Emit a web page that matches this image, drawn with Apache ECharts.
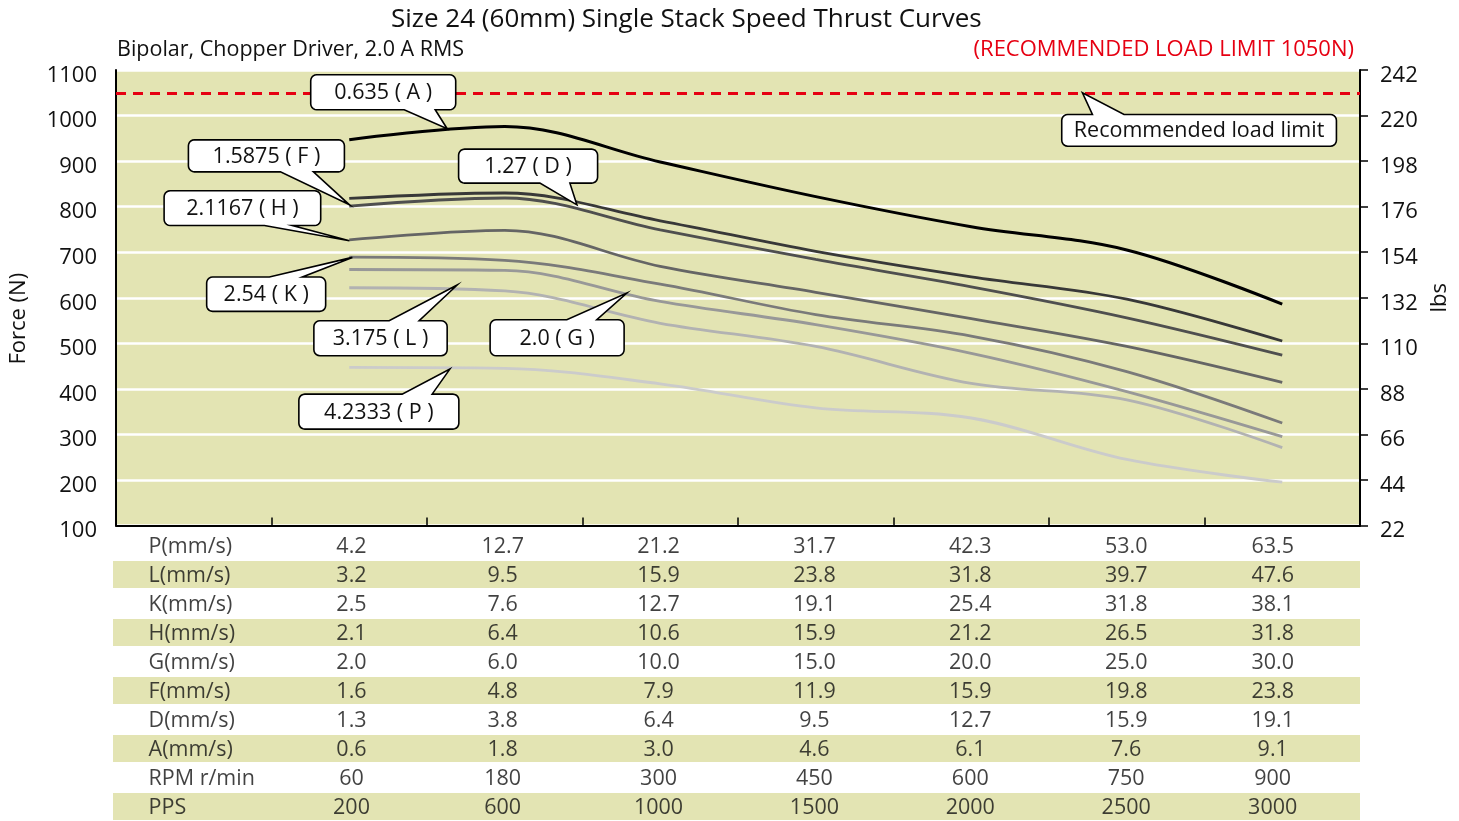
<!DOCTYPE html>
<html><head><meta charset="utf-8">
<script src="https://cdn.jsdelivr.net/npm/echarts@6/dist/echarts.min.js"></script>
<style>html,body{margin:0;padding:0;background:#fff}#c{width:1459px;height:821px}</style>
</head><body><div id="c"></div>
<script>
// ---------- data ----------
const ppsCols = ['200','600','1000','1500','2000','2500','3000'];
const forceA = [947, 976, 898, 822, 756, 705, 586];
const forceD = [818, 830, 769, 702, 646, 597, 505];
const forceF = [801, 819, 749, 684, 624, 556, 474];
const forceH = [727, 748, 669, 612, 554, 493, 414];
const forceK = [689, 682, 630, 563, 516, 438, 325];
const forceG = [662, 660, 592, 541, 478, 394, 295];
const forceL = [622, 615, 544, 493, 412, 376, 271];
const forceP = [447, 445, 411, 358, 336, 245, 195];
const loadLimit = 1050;

const rowNames = ['P(mm/s)','L(mm/s)','K(mm/s)','H(mm/s)','G(mm/s)','F(mm/s)','D(mm/s)','A(mm/s)','RPM r/min','PPS'];
const speedP = ['4.2','12.7','21.2','31.7','42.3','53.0','63.5'];
const speedL = ['3.2','9.5','15.9','23.8','31.8','39.7','47.6'];
const speedK = ['2.5','7.6','12.7','19.1','25.4','31.8','38.1'];
const speedH = ['2.1','6.4','10.6','15.9','21.2','26.5','31.8'];
const speedG = ['2.0','6.0','10.0','15.0','20.0','25.0','30.0'];
const speedF = ['1.6','4.8','7.9','11.9','15.9','19.8','23.8'];
const speedD = ['1.3','3.8','6.4','9.5','12.7','15.9','19.1'];
const speedA = ['0.6','1.8','3.0','4.6','6.1','7.6','9.1'];
const rpmRow = ['60','180','300','450','600','750','900'];
const ppsRow = ppsCols;
const tableRows = [speedP, speedL, speedK, speedH, speedG, speedF, speedD, speedA, rpmRow, ppsRow];

const forceTicks = {min:100, max:1100, interval:100};
const lbsTicks = {min:22, max:242, interval:22};

// ---------- layout / style ----------
const FONT = '"Open Sans", "Noto Sans", sans-serif';
const BG = '#e3e4b3';
const RED = '#e60012';
const TXT = '#111';
const colX = i => i + 1.5;             // line column positions on the 0..8 axis
const tableColX = [1.53, 2.5, 3.5, 4.5, 5.5, 6.5, 7.44];
const rowHeaderX = 0.225;

const lines = [
  {name:'P', data:forceP, color:'#cbcbcb', w:2.8},
  {name:'L', data:forceL, color:'#b2b2b2', w:2.8},
  {name:'G', data:forceG, color:'#989898', w:2.8},
  {name:'K', data:forceK, color:'#7a7a7a', w:2.8},
  {name:'H', data:forceH, color:'#656565', w:2.8},
  {name:'F', data:forceF, color:'#4f4f4f', w:2.8},
  {name:'D', data:forceD, color:'#383838', w:2.8},
  {name:'A', data:forceA, color:'#000000', w:3}
];

// callouts: tip in data coords, box & wedge base in px relative to tip
const callouts = [
  {text:'0.635 ( A )',  tip:[2.130, 971], box:[-136.5,-54,145,35],  side:'bottom', base:[-43,-12]},
  {text:'1.5875 ( F )', tip:[1.501, 804], box:[-161,-65,156,32],    side:'bottom', base:[-69,-36]},
  {text:'1.27 ( D )',   tip:[2.964, 804], box:[-118.3,-55.7,139,34],side:'bottom', base:[-37,-7]},
  {text:'2.1167 ( H )', tip:[1.501, 725], box:[-185.3,-50,156.6,34.7], side:'bottom', base:[-85,-57]},
  {text:'2.54 ( K )',   tip:[1.520, 688.6], box:[-145.7,19.6,119,34.4], side:'top', base:[-83,-50]},
  {text:'3.175 ( L )',  tip:[2.194, 628], box:[-143.3,35.7,133.3,35], side:'top', base:[-68,-38]},
  {text:'4.2333 ( P )', tip:[2.147, 443.3], box:[-151,25,160,35],   side:'top', base:[-47.7,-17.7]},
  {text:'2.0 ( G )',    tip:[3.285, 610.3], box:[-136.7,26.7,134,36], side:'top', base:[-60,-30]},
  {text:'Recommended load limit', tip:[6.215, 1050], box:[-20.7,21.7,274.7,31.7], side:'top', base:[10,41.6]}
];

const chart = echarts.init(document.getElementById('c'), null, {renderer:'canvas'});

const series = lines.map(s => ({
  type:'line', name:s.name, xAxisIndex:0, yAxisIndex:0,
  data: s.data.map((v,i)=>[colX(i), v]),
  smooth:0.35, symbol:'none', silent:true,
  lineStyle:{color:s.color, width:s.w}, z:3
}));
series[series.length-1].markLine = {
  silent:true, symbol:'none', label:{show:false},
  lineStyle:{color:RED, type:[10,7], width:3},
  data:[{yAxis:loadLimit}]
};

// table bands
series.push({
  type:'bar', xAxisIndex:1, yAxisIndex:2, silent:true, barWidth:'93%',
  itemStyle:{color:BG}, data: rowNames.map((n,i)=> i%2===1 ? 8 : '-'), z:1
});
// row headers
series.push({
  type:'scatter', xAxisIndex:1, yAxisIndex:2, silent:true, symbolSize:1,
  itemStyle:{color:'rgba(0,0,0,0)'},
  data: rowNames.map(n => [rowHeaderX, n]),
  label:{show:true, position:'right', distance:0, offset:[0,1.5], formatter:p=>p.value[1],
         fontFamily:FONT, fontSize:21.5, color:TXT}, z:5
});
// table values
const cells = [];
tableRows.forEach((row,r)=> row.forEach((t,c)=> cells.push([tableColX[c], rowNames[r], t])));
series.push({
  type:'scatter', xAxisIndex:1, yAxisIndex:2, silent:true, symbolSize:1,
  itemStyle:{color:'rgba(0,0,0,0)'},
  data: cells,
  label:{show:true, position:'inside', offset:[0,1.5], formatter:p=>p.value[2],
         fontFamily:FONT, fontSize:21.5, color:TXT}, z:5
});

const axisLabelCommon = {
  formatter: v => '{t|' + v + '}',
  rich:{t:{fontFamily:FONT, fontSize:22, color:TXT, padding:[11,0,0,0]}}
};

chart.setOption({
  animation:false,
  backgroundColor:'#fff',
  title:[
    {text:'Size 24 (60mm) Single Stack Speed Thrust Curves', left:386, top:2,
     textStyle:{fontFamily:FONT, fontSize:26, fontWeight:'normal', color:TXT}},
    {text:'Bipolar, Chopper Driver, 2.0 A RMS', left:112, top:34,
     textStyle:{fontFamily:FONT, fontSize:21.5, fontWeight:'normal', color:TXT}},
    {text:'(RECOMMENDED LOAD LIMIT 1050N)', right:100, top:34,
     textStyle:{fontFamily:FONT, fontSize:22, fontWeight:'normal', color:RED}}
  ],
  grid:[
    {left:113, right:99, top:70, bottom:295.5, show:true, backgroundColor:BG, borderWidth:0, containLabel:false},
    {left:113, right:99, top:531, bottom:0, containLabel:false}
  ],
  xAxis:[
    {type:'value', gridIndex:0, min:0, max:8, interval:1,
     axisLine:{show:true, onZero:false, lineStyle:{color:'#000', width:2}},
     axisTick:{show:true, inside:true, length:8, lineStyle:{color:'#000', width:1.5}},
     axisLabel:{show:false}, splitLine:{show:false}},
    {type:'value', gridIndex:1, min:0, max:8, show:false}
  ],
  yAxis:[
    {type:'value', gridIndex:0, position:'left', ...forceTicks,
     name:'Force (N)', nameLocation:'middle', nameRotate:90, nameGap:86,
     nameTextStyle:{fontFamily:FONT, fontSize:22, color:TXT, padding:[0,42,0,0]},
     axisLine:{show:true, onZero:false, lineStyle:{color:'#000', width:2}},
     axisTick:{show:false},
     axisLabel:{...axisLabelCommon, margin:19},
     splitLine:{show:true, lineStyle:{color:'#fff', width:2.5}}},
    {type:'value', gridIndex:0, position:'right', ...lbsTicks,
     name:'lbs', nameLocation:'middle', nameRotate:90, nameGap:66,
     nameTextStyle:{fontFamily:FONT, fontSize:22, color:TXT},
     axisLine:{show:true, onZero:false, lineStyle:{color:'#000', width:2}},
     axisTick:{show:true, length:8, lineStyle:{color:'#000', width:1.5}},
     axisLabel:{...axisLabelCommon, margin:20},
     splitLine:{show:false}},
    {type:'category', gridIndex:1, data:rowNames, inverse:true, show:false}
  ],
  series
});

function calloutPoints(x, y, w, h, side, b1, b2, tx, ty){
  const r = 6, n = 5, pts = [];
  const arc = (cx, cy, a0) => {
    for (let k = 0; k <= n; k++) {
      const a = a0 + k * Math.PI / 2 / n;
      pts.push([cx + r*Math.cos(a), cy + r*Math.sin(a)]);
    }
  };
  arc(x+r, y+r, Math.PI);
  if (side === 'top') pts.push([b1, y], [tx, ty], [b2, y]);
  arc(x+w-r, y+r, 1.5*Math.PI);
  arc(x+w-r, y+h-r, 0);
  if (side === 'bottom') pts.push([b2, y+h], [tx, ty], [b1, y+h]);
  arc(x+r, y+h-r, 0.5*Math.PI);
  return pts;
}

const graphics = [];
callouts.forEach(c => {
  const [tx, ty] = chart.convertToPixel({seriesIndex:lines.length-1}, c.tip);
  const x = tx + c.box[0], y = ty + c.box[1], w = c.box[2], h = c.box[3];
  graphics.push({
    type:'polygon', z:100, silent:true,
    shape:{points: calloutPoints(x, y, w, h, c.side, tx + c.base[0], tx + c.base[1], tx, ty)},
    style:{fill:'#fff', stroke:'#000', lineWidth:1.6, lineJoin:'miter'}
  });
  graphics.push({
    type:'text', z:101, silent:true, x: x + w/2, y: y + h/2 + 1,
    style:{text:c.text, fill:TXT, font:`21.5px ${FONT}`,
           align:'center', verticalAlign:'middle'}
  });
});
chart.setOption({graphic: graphics});
</script></body></html>
